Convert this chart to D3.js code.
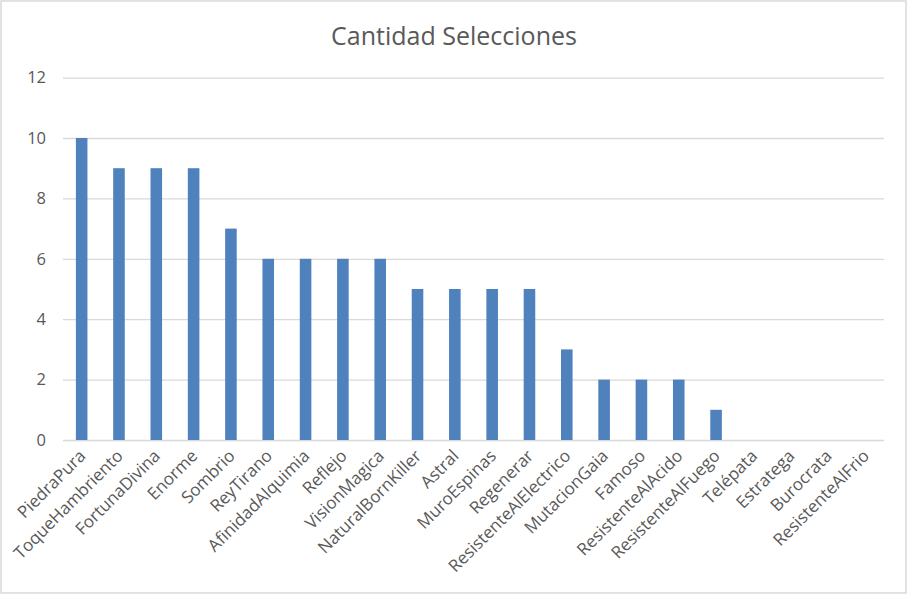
<!DOCTYPE html>
<html>
<head>
<meta charset="utf-8">
<script src="https://cdn.jsdelivr.net/npm/d3@7"></script>
<style>
  html, body { margin: 0; padding: 0; background: #fff; }
  svg { display: block; }
  text { font-family: "Open Sans", "Noto Sans", sans-serif; fill: #595959; }
</style>
</head>
<body>
<svg id="chart" width="908" height="596"></svg>
<script>
const categories = ["PiedraPura","ToqueHambriento","FortunaDivina","Enorme","Sombrio","ReyTirano","AfinidadAlquimia","Reflejo","VisionMagica","NaturalBornKiller","Astral","MuroEspinas","Regenerar","ResistenteAlElectrico","MutacionGaia","Famoso","ResistenteAlAcido","ResistenteAlFuego","Telépata","Estratega","Burocrata","ResistenteAlFrio"];
const values = [10,9,9,9,7,6,6,6,6,5,5,5,5,3,2,2,2,1,0,0,0,0];
const yTicks = [0,2,4,6,8,10,12];
const title = "Cantidad Selecciones";

const svg = d3.select("#chart");
const W = 908, H = 596;

svg.append("rect").attr("x", 1).attr("y", 1).attr("width", W - 3).attr("height", H - 4)
  .attr("fill", "#fff").attr("stroke", "#d9d9d9").attr("stroke-width", 1.5);

const x = d3.scaleBand().domain(categories).range([63, 884]).paddingInner(0.69).paddingOuter(0.345);
const y = d3.scaleLinear().domain([0, 12]).range([440, 77.6]);

// gridlines
const yAxis = d3.axisLeft(y).tickValues(yTicks).tickSize(-(884 - 63)).tickPadding(17).tickFormat(d3.format("d"));
const gy = svg.append("g").attr("transform", "translate(63,0)").call(yAxis);
gy.select(".domain").remove();
gy.selectAll(".tick line").attr("stroke", "#d9d9d9").attr("stroke-width", 1.3);
gy.selectAll(".tick text").attr("font-size", 16.5).attr("fill", "#595959")
  .style("font-family", '"Open Sans", sans-serif');

// bars
svg.append("g").selectAll("rect").data(categories).join("rect")
  .attr("x", d => x(d))
  .attr("width", x.bandwidth())
  .attr("y", (d, i) => y(values[i]))
  .attr("height", (d, i) => y(0) - y(values[i]))
  .attr("fill", "#4f81bd");

// x labels
const xAxis = d3.axisBottom(x).tickSize(0).tickPadding(0);
const gx = svg.append("g").attr("transform", "translate(0,440)").call(xAxis);
gx.select(".domain").remove();
gx.selectAll(".tick text")
  .attr("font-size", 17)
  .attr("fill", "#595959")
  .style("font-family", '"Open Sans", sans-serif')
  .attr("text-anchor", "end")
  .attr("dy", null)
  .attr("y", 0)
  .attr("transform", "translate(5,17) rotate(-45)");

// title
svg.append("text").attr("x", 454).attr("y", 45).attr("text-anchor", "middle")
  .attr("font-size", 25).attr("fill", "#595959").text(title);
</script>
</body>
</html>
